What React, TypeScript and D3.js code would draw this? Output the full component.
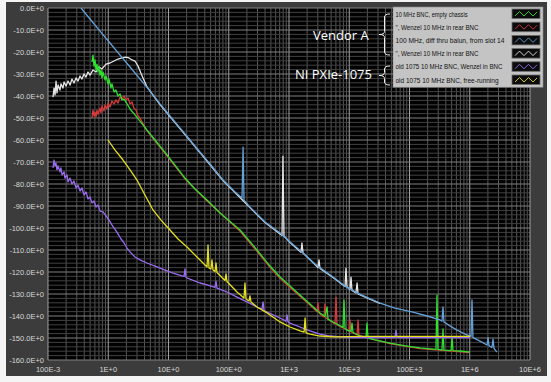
import React from "react";
import * as d3 from "d3";

type Pt = [number, number];

const W = 551;
const H = 382;

const xTickValues = [0.1, 1, 10, 100, 1e3, 1e4, 1e5, 1e6, 1e7];
const xTickLabels = ["100E-3", "1E+0", "10E+0", "100E+0", "1E+3", "10E+3", "100E+3", "1E+6", "10E+6"];
const yTickValues = [0, -10, -20, -30, -40, -50, -60, -70, -80, -90, -100, -110, -120, -130, -140, -150, -160];
const yTickLabels = ["0.0E+0", "-10.0E+0", "-20.0E+0", "-30.0E+0", "-40.0E+0", "-50.0E+0", "-60.0E+0", "-70.0E+0", "-80.0E+0", "-90.0E+0", "-100.0E+0", "-110.0E+0", "-120.0E+0", "-130.0E+0", "-140.0E+0", "-150.0E+0", "-160.0E+0"];

const seriesNames = [
  "10 MHz BNC, empty chassis",
  "\", Wenzel 10 MHz in rear BNC",
  "100 MHz, diff thru balun, from slot 14",
  "\", Wenzel 10 MHz in rear BNC",
  "old 1075 10 MHz BNC, Wenzel in BNC",
  "old 1075 10 MHz BNC, free-running",
];
const seriesColors = ["#2fe02f", "#d83a3a", "#64a2da", "#e6e6e6", "#9a6cf0", "#e4e01e"];
// drawing order (later on top)
const drawOrder = [3, 1, 0, 2, 4, 5];
// rendered widths of legend labels (px)
const legendTextWidths = [72, 83, 109, 83, 107, 103];

// [frequency Hz, dB]
const greenData: Pt[] = [
  [0.537, -24.5], [0.558, -21.4], [0.581, -26.4], [0.603, -23.6], [0.627, -28.2], [0.65, -25.5], [0.676, -29.1], [0.703, -26.4],
  [0.73, -30.5], [0.759, -28.2], [0.787, -31.8], [0.818, -29.1], [0.883, -32.7], [0.918, -30.9], [0.991, -34.5], [1.03, -32.3],
  [1.11, -36.4], [1.15, -34.5], [1.25, -38.2], [1.34, -37.3], [1.45, -40.0], [1.57, -39.1], [1.69, -41.8], [1.83, -41.4],
  [2.05, -43.6], [2.3, -45.9], [2.78, -48.6], [3.37, -51.4], [4.4, -55.5], [5.97, -60.0], [9.44, -66.8], [12.8, -71.4],
  [18.8, -77.3], [27.5, -82.3], [43.6, -87.3], [71.6, -93.2], [154, -100.9], [294, -110.0], [484, -117.3], [710, -122.3],
  [1040, -126.4], [1520, -130.5], [2230, -134.5], [3270, -138.6], [3960, -140.2], [4280, -135.9], [4440, -141.4], [5370, -142.7],
  [7870, -145.2], [8180, -132.7], [8510, -145.7], [9180, -146.4], [10700, -147.0], [11100, -143.2], [11560, -147.5], [15100, -149.1],
  [19000, -149.8], [19700, -143.2], [20500, -150.0], [26800, -150.9], [47500, -152.3], [84200, -153.6], [149000, -154.5],
  [275000, -155.2], [286000, -130.5], [297000, -155.2], [346000, -155.5], [360000, -145.9], [373000, -155.5],
  [489000, -155.7], [508000, -149.5], [527000, -155.7], [689000, -155.9], [1.01e6, -156.4],
];

const redData: Pt[] = [
  [0.537, -50.0], [0.558, -46.4], [0.581, -49.1], [0.603, -47.3], [0.627, -49.5], [0.65, -46.4], [0.676, -48.2], [0.73, -45.5],
  [0.759, -47.7], [0.787, -44.5], [0.85, -46.8], [0.883, -44.1], [0.953, -45.9], [0.991, -43.2], [1.07, -45.0], [1.15, -42.3],
  [1.25, -43.6], [1.34, -41.8], [1.45, -43.2], [1.57, -40.5], [1.69, -41.4], [1.83, -40.0], [1.97, -41.8], [2.13, -40.9],
  [2.3, -43.6], [2.48, -42.7], [2.67, -45.5], [2.89, -46.4], [3.12, -49.1], [3.37, -50.0], [3.78, -52.7], [4.4, -55.7],
  [4.93, -57.5], [5.97, -60.4], [9.44, -67.2], [18.8, -77.7], [43.6, -87.7], [154, -101.5], [294, -110.6], [484, -117.9],
  [710, -122.9], [1040, -127.0], [1520, -131.0], [2230, -135.0], [2920, -138.1], [3030, -134.1], [3150, -138.6],
  [3810, -140.4], [3960, -134.5], [4110, -140.9], [5800, -143.6], [6030, -131.4], [6270, -144.0],
  [9910, -146.8], [10300, -141.8], [10700, -147.2], [13500, -148.5], [14000, -141.8], [14500, -148.8],
  [26800, -150.9], [47500, -152.5], [149000, -154.8], [1.01e6, -156.6],
];

const blueData: Pt[] = [
  [0.353, 0], [0.498, -5.0], [0.73, -10.5], [1.07, -15.9], [1.57, -21.4], [2.3, -26.8], [3.37, -32.3], [4.93, -37.7],
  [7.22, -43.6], [10.6, -49.1], [15.5, -54.5], [22.7, -60.0], [33.3, -65.5], [48.9, -70.9], [80.3, -78.2], [127, -83.6],
  [166, -86.4], [173, -63.2], [179, -87.3], [225, -90.5], [400, -97.3], [710, -102.3], [1040, -106.4], [1640, -110.9],
  [2700, -116.4], [5370, -122.3], [8510, -126.4], [13500, -129.5], [20500, -131.8], [32400, -134.1], [57500, -136.4],
  [114000, -138.2], [195000, -140.0], [321000, -141.8], [346000, -142.3], [360000, -135.9], [373000, -142.7],
  [470000, -144.5], [615000, -146.4], [834000, -148.2], [1.05e6, -149.3], [1.09e6, -132.7], [1.13e6, -149.8],
  [1.48e6, -151.4], [1.94e6, -153.2], [2.01e6, -149.8], [2.09e6, -153.6], [2.34e6, -154.3], [2.43e6, -150.5],
  [2.53e6, -154.8], [2.83e6, -156.4],
];

const whiteData: Pt[] = [
  [0.121, -40.5], [0.126, -36.4], [0.131, -39.5], [0.136, -33.2], [0.141, -38.6], [0.147, -35.0], [0.158, -37.3], [0.164, -34.5],
  [0.177, -36.4], [0.185, -33.6], [0.199, -35.5], [0.215, -33.2], [0.232, -35.0], [0.25, -32.3], [0.27, -34.1], [0.292, -31.8],
  [0.315, -33.2], [0.34, -30.9], [0.366, -32.3], [0.396, -30.0], [0.428, -31.4], [0.461, -29.1], [0.498, -30.5], [0.558, -28.2],
  [0.627, -29.1], [0.703, -26.8], [0.787, -27.7], [0.918, -25.5], [1.07, -25.0], [1.25, -24.1], [1.45, -23.2], [1.69, -22.7],
  [1.97, -22.3], [2.21, -22.7], [2.48, -23.6], [2.78, -24.1], [3.12, -26.4], [3.48, -29.5], [3.9, -32.7], [4.4, -35.9],
  [7.22, -43.9], [15.5, -54.8], [33.3, -65.7], [80.3, -78.4], [225, -90.7], [400, -97.5],
  [766, -103.4], [794, -67.3], [826, -103.6], [1040, -106.6], [1580, -111.0], [1640, -106.8], [1710, -111.4],
  [2700, -116.6], [3030, -118.0], [3150, -114.5], [3270, -118.4], [5370, -122.5], [8510, -126.6], [8830, -118.2],
  [9180, -126.8], [10300, -128.0], [10700, -122.3], [11100, -128.4], [12900, -129.5], [13500, -125.0], [14000, -130.0],
  [20500, -132.0], [32400, -134.3],
];

const purpleData: Pt[] = [
  [0.121, -72.7], [0.126, -69.1], [0.131, -71.8], [0.136, -70.5], [0.141, -73.6], [0.147, -71.8], [0.158, -74.5], [0.164, -72.7],
  [0.171, -75.9], [0.185, -74.5], [0.191, -77.3], [0.207, -75.9], [0.215, -79.1], [0.232, -77.3], [0.25, -80.0], [0.27, -78.6],
  [0.292, -81.8], [0.315, -80.5], [0.34, -83.2], [0.366, -81.8], [0.396, -85.0], [0.428, -83.6], [0.461, -86.8], [0.498, -85.9],
  [0.537, -88.6], [0.581, -87.7], [0.627, -90.5], [0.676, -89.5], [0.73, -92.3], [0.818, -92.7], [0.918, -94.5], [1.03, -96.4],
  [1.15, -98.6], [1.29, -100.5], [1.45, -102.7], [1.63, -105.0], [1.83, -106.8], [2.05, -109.1], [2.3, -110.9], [2.78, -113.2],
  [3.37, -114.5], [4.4, -115.9], [6.44, -117.7], [8.75, -119.1], [11.9, -120.5], [16.7, -121.8], [18.1, -122.0], [18.8, -118.6],
  [19.5, -122.5], [22.7, -123.2], [33.3, -125.0], [43.6, -125.9], [59.1, -127.0], [61.4, -124.1], [63.8, -127.3], [93.5, -129.1],
  [137, -131.4], [201, -133.6], [294, -135.9], [356, -137.0], [371, -133.6], [385, -137.5], [432, -138.2], [710, -140.9],
  [892, -142.3], [927, -139.5], [962, -142.7], [1040, -143.2], [1520, -145.0], [2230, -146.8], [3270, -148.2], [4800, -149.1],
  [10300, -149.8], [32400, -149.8], [57500, -149.8], [59700, -146.4], [62100, -149.8], [321000, -149.8], [1.01e6, -149.8],
];

const yellowData: Pt[] = [
  [0.991, -60.0], [1.29, -64.5], [1.76, -69.1], [2.3, -73.6], [3.0, -78.2], [4.07, -85.0], [5.53, -91.8], [7.51, -96.4],
  [10.6, -100.9], [14.4, -105.0], [20.3, -108.6], [29.7, -113.2], [43.6, -117.7], [45.3, -107.7], [47.0, -118.2],
  [50.7, -118.6], [52.7, -114.5], [54.8, -119.1], [59.1, -119.8], [61.4, -115.9], [63.8, -120.2], [86.7, -123.9],
  [90.0, -120.9], [93.5, -124.3], [137, -129.1], [179, -131.8], [186, -125.0], [193, -132.3], [217, -133.2], [225, -130.9],
  [234, -133.6], [294, -135.9], [432, -138.6], [710, -142.7], [1040, -145.0], [1520, -146.8], [1780, -147.3], [1850, -140.9],
  [1920, -147.7], [2230, -148.2], [3270, -149.1], [5800, -149.5], [15100, -149.3], [69500, -149.3], [321000, -149.3],
  [1.01e6, -149.3],
];

const allSeries: Pt[][] = [greenData, redData, blueData, whiteData, purpleData, yellowData];

const PL = 48, PR = 530, PT = 8, PB = 360;

function bracePath(x: number, y1: number, y2: number, w: number): string {
  const ym = (y1 + y2) / 2;
  const xm = x - w / 2;
  const r = 3;
  return `M${x},${y1} Q${xm},${y1} ${xm},${y1 + r} L${xm},${ym - r} Q${xm},${ym} ${x - w},${ym} Q${xm},${ym} ${xm},${ym + r} L${xm},${y2 - r} Q${xm},${y2} ${x},${y2}`;
}

export default function App() {
  const x = d3.scaleLog().domain([0.1, 1e7]).range([PL, PR]);
  const y = d3.scaleLinear().domain([-160, 0]).range([PB, PT]);
  const line = d3.line<Pt>().x((d) => x(d[0])).y((d) => y(d[1]));

  const minorX: number[] = [];
  for (let e = -1; e < 7; e++) for (let k = 2; k <= 9; k++) minorX.push(k * Math.pow(10, e));
  const minorY: number[] = [];
  for (let v = -160; v <= 0; v += 2) if (v % 10 !== 0) minorY.push(v);

  const legX = 393, legY = 7, legW = 150, rowH = 13.2;

  return (
    <svg width={W} height={H} style={{ position: "absolute", left: 0, top: 0 }}>
      <rect x={0} y={0} width={W} height={H} fill="#f4f4f4" />
      <rect x={6} y={2} width={541} height={374} fill="#3c3c3c" />
      <rect x={PL} y={PT} width={PR - PL} height={PB - PT} fill="#000" />
      <defs>
        <clipPath id="plotclip">
          <rect x={PL} y={PT} width={PR - PL} height={PB - PT} />
        </clipPath>
      </defs>
      <g>
        {minorX.map((v, i) => (
          <line key={"mx" + i} x1={x(v)} x2={x(v)} y1={PT} y2={PB} stroke="#555" strokeWidth={1} />
        ))}
        {minorY.map((v, i) => (
          <line key={"my" + i} x1={PL} x2={PR} y1={y(v)} y2={y(v)} stroke="#404040" strokeWidth={1} />
        ))}
        {xTickValues.map((v, i) => (
          <line key={"Mx" + i} x1={x(v)} x2={x(v)} y1={PT} y2={PB} stroke="#a0a0a0" strokeWidth={1} />
        ))}
        {yTickValues.map((v, i) => (
          <line key={"My" + i} x1={PL} x2={PR} y1={y(v)} y2={y(v)} stroke="#808080" strokeWidth={1} />
        ))}
      </g>
      <g clipPath="url(#plotclip)" fill="none" strokeLinejoin="round">
        {drawOrder.map((i) => (
          <path key={"s" + i} d={line(allSeries[i]) || ""} stroke={seriesColors[i]} strokeWidth={1.3} />
        ))}
      </g>
      <g fontFamily="Liberation Sans, Arial, sans-serif" fontSize={7.5} fill="#d8d8d8">
        {yTickValues.map((v, i) => (
          <text key={"yl" + i} x={44} y={y(v) + 2.7} textAnchor="end">{yTickLabels[i]}</text>
        ))}
        {xTickValues.map((v, i) => (
          <text key={"xl" + i} x={x(v)} y={371.5} textAnchor="middle">{xTickLabels[i]}</text>
        ))}
      </g>
      <g>
        <rect x={legX} y={legY} width={legW} height={rowH * 6 + 1} fill="#c4c4c4" stroke="#8a8a8a" strokeWidth={0.6} />
        {seriesNames.map((n, i) => {
          const ry = legY + i * rowH;
          const sx = 512, sw = 28, sy = ry + 2, sh = 9.5;
          const zz = `M${sx + 3},${sy + sh - 2.5} L${sx + 7.5},${sy + 2.5} L${sx + 12},${sy + sh - 2.5} L${sx + 16.5},${sy + 2.5} L${sx + 21},${sy + sh - 2.5} L${sx + 25},${sy + 3}`;
          return (
            <g key={"lg" + i}>
              <text x={legX + 2.5} y={ry + 9.6} fontFamily="Liberation Sans, Arial, sans-serif" fontSize={7.6} fill="#111" textLength={legendTextWidths[i]} lengthAdjust="spacingAndGlyphs">{n}</text>
              <rect x={sx} y={sy} width={sw} height={sh} fill="#0c0c0c" stroke="#6a6a6a" strokeWidth={0.8} />
              <path d={zz} fill="none" stroke={seriesColors[i]} strokeWidth={0.9} />
            </g>
          );
        })}
      </g>
      <g fill="none" stroke="#f0f0f0" strokeWidth={1}>
        <path d={bracePath(390, 14, 55, 11)} />
        <path d={bracePath(390, 66, 85, 11)} />
      </g>
      <g fontFamily="Open Sans, sans-serif" fontSize={13} fill="#ffffff">
        <text x={313} y={40}>Vendor A</text>
        <text x={295} y={79}>NI PXIe-1075</text>
      </g>
    </svg>
  );
}
